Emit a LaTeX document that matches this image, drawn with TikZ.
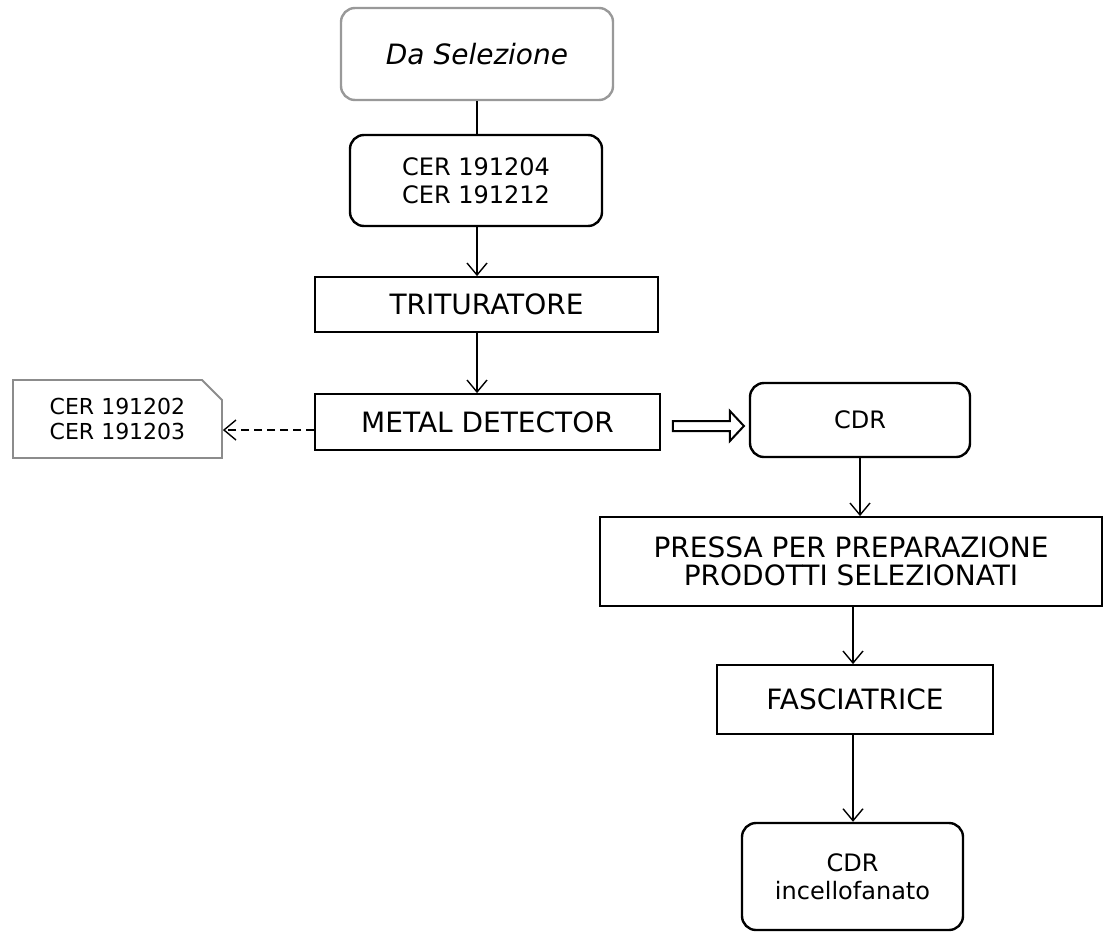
\documentclass[tikz,border=0pt]{standalone}
\usepackage{fontspec}
\setmainfont{DejaVu Sans}
\usetikzlibrary{arrows.meta,shapes.misc,positioning,calc}

\begin{document}
\begin{tikzpicture}[x=0.5pt,y=-0.5pt,
  blk/.style={draw,line width=0.9pt,align=center,inner sep=0pt,
              font=\fontsize{14}{14}\selectfont},
  rblk/.style={blk,rounded corners=7pt,line width=1.2pt,
               font=\fontsize{12}{14}\selectfont},
  flow/.style={-{Straight Barb[length=6pt,width=10pt]},line width=0.7pt}]
  \useasboundingbox (0,0) rectangle (1108,932);
  \node[rblk,draw=black!40,minimum width=136pt,minimum height=46pt,
        font=\fontsize{14}{14}\selectfont\itshape] (sel) at (477,54) {Da Selezione};
  \node[rblk,minimum width=126pt,minimum height=45.5pt] (cerin) at (476,180.5) {CER 191204\\CER 191212};
  \node[blk,minimum width=171.5pt,minimum height=27.5pt] (trit) at (486.5,304.5) {TRITURATORE};
  \node[blk,minimum width=172.5pt,minimum height=28pt] (metal) at (487.5,422) {METAL DETECTOR};
  \node[blk,draw=black!45,chamfered rectangle,chamfered rectangle corners=north east,
        chamfered rectangle xsep=5pt,chamfered rectangle ysep=5pt,
        minimum width=104.5pt,minimum height=39pt,
        font=\fontsize{11}{12.5}\selectfont] (cerout) at (117.5,419) {CER 191202\\CER 191203};
  \node[rblk,minimum width=110pt,minimum height=37pt] (cdr) at (860,420) {CDR};
  \node[blk,minimum width=251pt,minimum height=44.5pt] (pressa) at (851,561.5) {PRESSA PER PREPARAZIONE\\PRODOTTI SELEZIONATI};
  \node[blk,minimum width=138pt,minimum height=34.5pt] (fasc) at (855,699.5) {FASCIATRICE};
  \node[rblk,minimum width=110.5pt,minimum height=53.5pt] (final) at (852.5,876.5) {CDR\\incellofanato};
  \draw[line width=0.7pt] (sel.south) -- (sel.south |- cerin.north);
  \draw[flow] (cerin.south -| sel) -- (sel |- trit.north);
  \draw[flow] (sel |- trit.south) -- (sel |- metal.north);
  \draw[flow,dash pattern=on 4pt off 2.5pt] ([yshift=-4pt]metal.west) -- ([yshift=-4pt]metal.west -| cerout.east);
  \draw[line width=1pt,fill=white] ($(metal.east)+(12,4)$) ++(0,-5) -- ++(57,0) -- ++(0,-10)
    -- ++(14,15) -- ++(-14,15) -- ++(0,-10) -- ++(-57,0) -- cycle;
  \draw[flow] (cdr.south) -- (cdr.south |- pressa.north);
  \draw[flow] ([xshift=1pt]pressa.south) -- ([xshift=1pt]pressa.south |- fasc.north);
  \draw[flow] ([xshift=-1pt]fasc.south) -- ([xshift=-1pt]fasc.south |- final.north);
\end{tikzpicture}
\end{document}
